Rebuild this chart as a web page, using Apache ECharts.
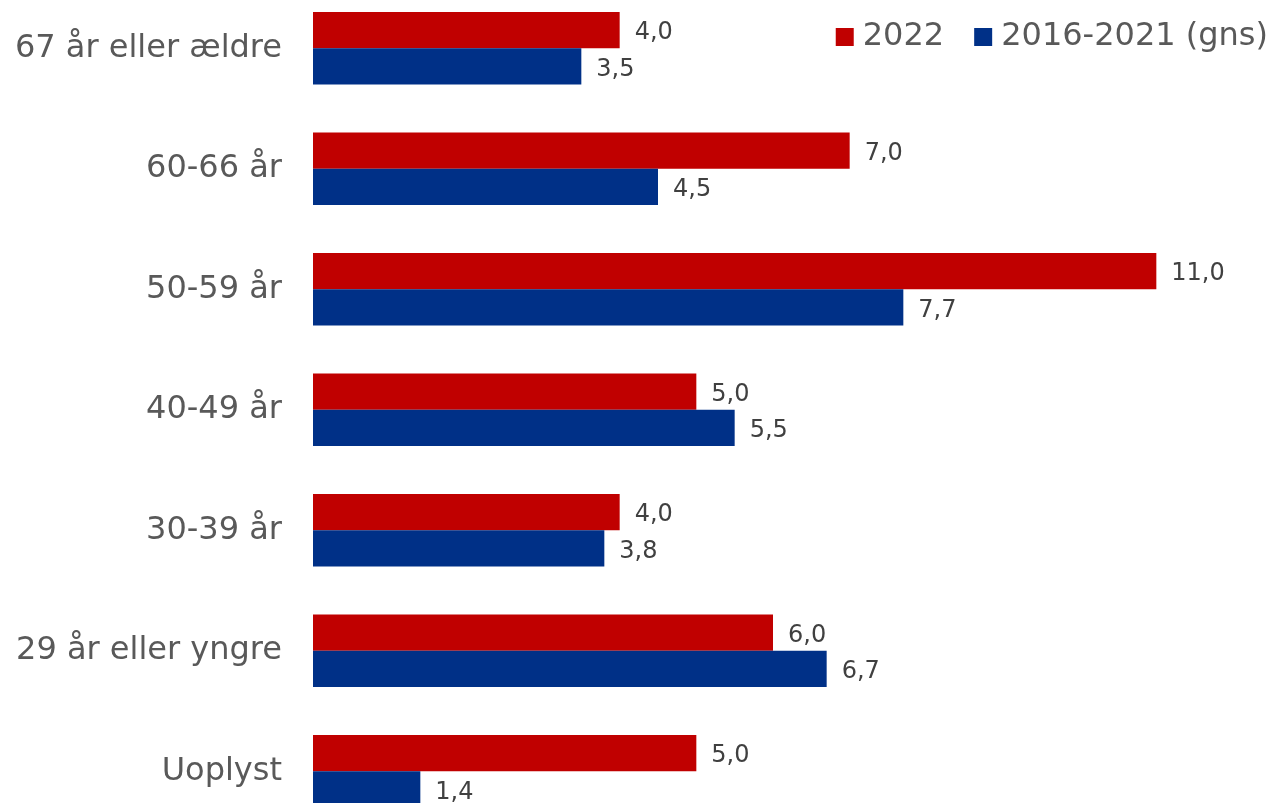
<!DOCTYPE html>
<html>
<head>
<meta charset="utf-8">
<script src="https://cdn.jsdelivr.net/npm/echarts@6/dist/echarts.min.js"></script>
<style>
  html, body { margin: 0; padding: 0; background: #fff; overflow: hidden; }
  #wrap { width: 1279px; height: 803px; overflow: hidden; position: relative; }
  /* chart is taller than the window so the top and bottom bands run past the edges */
  #chart { width: 1279px; height: 870px; position: absolute; left: 0; top: -12px; }
</style>
</head>
<body>
<div id="wrap"><div id="chart"></div></div>
<script>
const categories = ['67 år eller ældre', '60-66 år', '50-59 år', '40-49 år', '30-39 år', '29 år eller yngre', 'Uoplyst']
const values2022 = [4.0, 7.0, 11.0, 5.0, 4.0, 6.0, 5.0]
const valuesAvg = [3.5, 4.5, 7.7, 5.5, 3.8, 6.7, 1.4]
const seriesNames = ['2022', '2016-2021 (gns)']

const fmt = p => p.value.toFixed(1).replace('.', ',')

const chart = echarts.init(document.getElementById('chart'))
chart.setOption({
  animation: false,
  textStyle: { fontFamily: 'DejaVu Sans' },
  legend: {
    data: seriesNames,
    right: 6,
    top: 28,
    itemWidth: 18,
    itemHeight: 18,
    itemGap: 30,
    icon: 'rect',
    textStyle: { fontSize: 32, color: '#595959', fontFamily: 'DejaVu Sans', padding: [0, 0, 0, 4] }
  },
  grid: { left: 313, right: 46, top: 0, height: 843.5, containLabel: false },
  xAxis: {
    type: 'value',
    min: 0,
    max: 12,
    show: false
  },
  yAxis: {
    type: 'category',
    data: categories,
    inverse: true,
    axisLine: { show: false },
    axisTick: { show: false },
    axisLabel: { fontSize: 32, color: '#595959', margin: 31, fontFamily: 'DejaVu Sans', padding: [5, 0, 0, 0] }
  },
  series: [
    {
      name: seriesNames[0],
      type: 'bar',
      data: values2022,
      barCategoryGap: '40%',
      barGap: '0%',
      itemStyle: { color: '#C00000' },
      label: { show: true, position: 'right', distance: 15, offset: [0, 3], fontSize: 24, color: '#404040', formatter: fmt }
    },
    {
      name: seriesNames[1],
      type: 'bar',
      data: valuesAvg,
      barCategoryGap: '40%',
      barGap: '0%',
      itemStyle: { color: '#003087' },
      label: { show: true, position: 'right', distance: 15, offset: [0, 3], fontSize: 24, color: '#404040', formatter: fmt }
    }
  ]
})
</script>
</body>
</html>
